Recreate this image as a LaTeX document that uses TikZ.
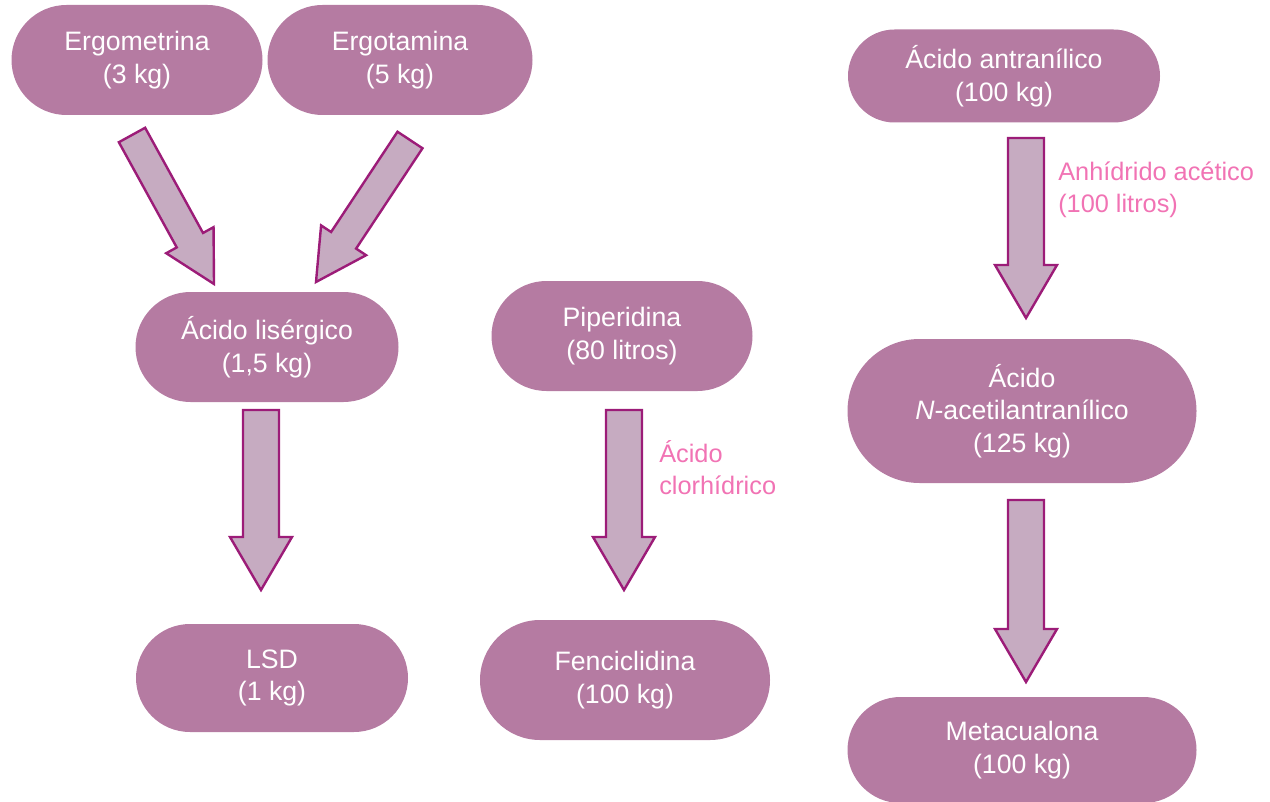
\documentclass[tikz,border=0pt]{standalone}
\usepackage{fontspec}
\setmainfont{Liberation Sans}
\usetikzlibrary{calc,shapes.misc}
\definecolor{boxpurple}{HTML}{B57BA2}
\definecolor{arrowfill}{HTML}{C6ABC1}
\definecolor{arrowline}{HTML}{9C1C78}
\definecolor{reagentpink}{HTML}{F173B4}
\tikzset{
  fat/.style n args={3}{% half shaft, half head, head length
    draw=arrowline, fill=arrowfill, line width=1.8pt, line join=miter,
    to path={let \p1=($(\tikztotarget)-(\tikztostart)$),
      \n1={atan2(\y1,\x1)}, \n2={veclen(\x1,\y1)-#3} in
      ($(\tikztostart)+(\n1+90:#1)$)
      -- ($(\tikztostart)+(\n1:\n2)+(\n1+90:#1)$)
      -- ($(\tikztostart)+(\n1:\n2)+(\n1+90:#2)$)
      -- (\tikztotarget)
      -- ($(\tikztostart)+(\n1:\n2)+(\n1-90:#2)$)
      -- ($(\tikztostart)+(\n1:\n2)+(\n1-90:#1)$)
      -- ($(\tikztostart)+(\n1-90:#1)$) -- cycle}},
}
\begin{document}
\begin{tikzpicture}
[x=0.75pt,y=-0.75pt,%
  box/.style={rounded rectangle,fill=boxpurple,text=white,align=center,
    inner sep=0pt,font=\fontsize{20}{24.5}\selectfont},%
  reagent/.style={anchor=north west,inner sep=0pt,align=left,
    text=reagentpink,font=\fontsize{19}{24}\selectfont}]
\useasboundingbox (0,0) rectangle (1270,802);
% substances
\node[box,minimum width=188.25pt,minimum height=82.5pt] (ergom) at (137,60) {Ergometrina\\(3 kg)};
\node[box,minimum width=198.75pt,minimum height=82.5pt] (ergot) at (400,60) {Ergotamina\\(5 kg)};
\node[box,minimum width=197.25pt,minimum height=82.5pt] (lis) at (267,347) {Ácido lisérgico\\(1,5 kg)};
\node[box,minimum width=204pt,minimum height=81pt] (lsd) at (272,678) {LSD\\(1 kg)};
\node[box,minimum width=195.75pt,minimum height=82.5pt] (pip) at (622,336) {Piperidina\\(80 litros)};
\node[box,minimum width=217.5pt,minimum height=90pt] (fen) at (625,680) {Fenciclidina\\(100 kg)};
\node[box,minimum width=234pt,minimum height=69.75pt] (antr) at (1004,76) {Ácido antranílico\\(100 kg)};
\node[box,minimum width=261.75pt,minimum height=108pt] (acet) at (1022,411) {Ácido\\\textit{N}-acetilantranílico\\(125 kg)};
\node[box,minimum width=261.75pt,minimum height=79.5pt] (meta) at (1022,750) {Metacualona\\(100 kg)};
% arrow ends
\coordinate (ergom-s) at (132,135);
\coordinate (ergom-t) at (214,284);
\coordinate (ergot-s) at (410,140);
\coordinate (ergot-t) at (316,282);
\coordinate (lis-s) at (261,410);
\coordinate (lis-t) at (261,590);
\coordinate (pip-s) at (624,410);
\coordinate (pip-t) at (624,590);
\coordinate (antr-s) at (1026,138);
\coordinate (antr-t) at (1026,318);
\coordinate (acet-s) at (1026,500);
\coordinate (acet-t) at (1026,682);
\draw[fat={11.25pt}{20.25pt}{37.5}] (ergom-s) to (ergom-t);
\draw[fat={11.25pt}{20.25pt}{37.5}] (ergot-s) to (ergot-t);
\draw[fat={13.5pt}{23.25pt}{39.75}] (lis-s) to (lis-t);
\draw[fat={13.5pt}{23.25pt}{39.75}] (pip-s) to (pip-t);
\draw[fat={13.5pt}{23.25pt}{39.75}] (antr-s) to (antr-t);
\draw[fat={13.5pt}{23.25pt}{39.75}] (acet-s) to (acet-t);
% reagents
\node[reagent] (hcl) at (659,440) {Ácido\\clorhídrico};
\node[reagent] (anh) at (1058,162) {Anhídrido acético\\(100 litros)};
\end{tikzpicture}
\end{document}
